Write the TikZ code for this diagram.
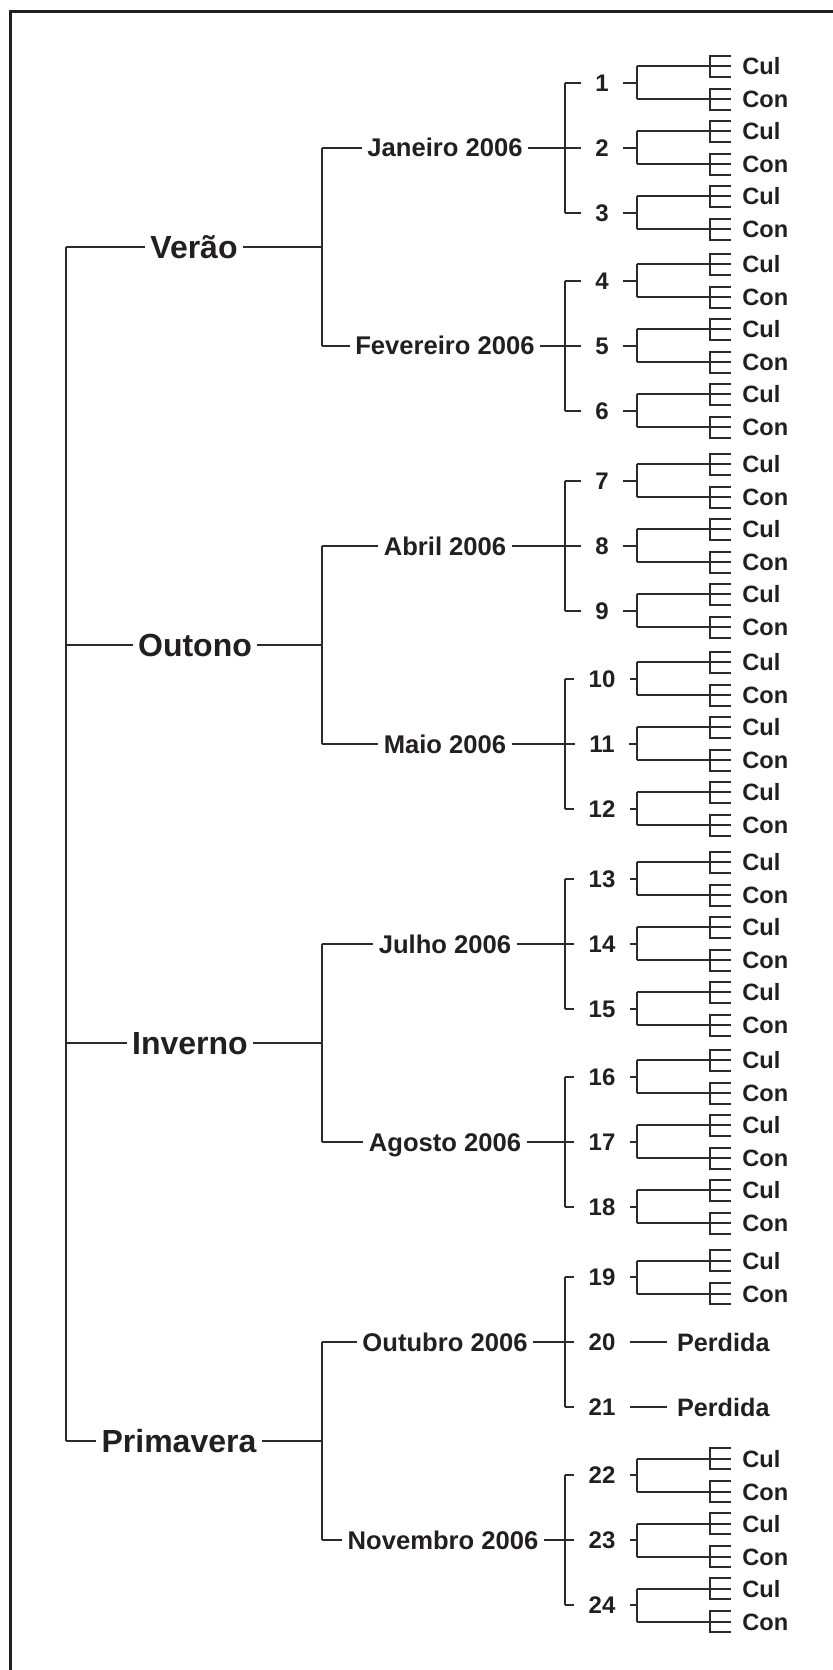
\documentclass[tikz,border=0pt]{standalone}
\usepackage{fontspec}
\setmainfont{Liberation Sans}
\usetikzlibrary{calc}

\definecolor{tinta}{HTML}{231F20}
\definecolor{traco}{HTML}{2B2B2B}

\tikzset{
  ramo/.style={draw=traco, line width=1pt},
  estacao/.style={font=\bfseries\fontsize{16}{18}\selectfont, text=tinta, inner sep=2.5pt, text height=11.5pt, text depth=0pt},
  mes/.style={font=\bfseries\fontsize{12.8}{15}\selectfont, text=tinta, inner sep=2.5pt, text height=9.2pt, text depth=0pt},
  amostra/.style={font=\bfseries\fontsize{12}{14}\selectfont, text=tinta, inner xsep=7pt, inner ysep=0pt, text height=8.6pt, text depth=0pt},
  folha/.style={font=\bfseries\fontsize{11.8}{14}\selectfont, text=tinta, anchor=west, inner sep=0pt, text height=8.5pt, text depth=0pt},
  perda/.style={font=\bfseries\fontsize{12.6}{15}\selectfont, text=tinta, anchor=west, inner xsep=5pt, inner ysep=0pt, text height=9pt, text depth=0pt},
}

\begin{document}
\begin{tikzpicture}[x=0.5pt, y=-0.5pt]
  \useasboundingbox (0,0) rectangle (833,1670);
  % moldura
  \draw[tinta, line width=1.5pt] (10,1670) -- (10,11) -- (833,11);

  % colunas
  \coordinate (tronco) at (65.7,0);
  \coordinate (galho) at (322.3,0);
  \coordinate (ponta) at (565,0);
  \coordinate (numx) at (602,0);
  \coordinate (haste) at (637,0);
  \coordinate (pente) at (710,0);
  \coordinate (dente) at (731,0);
  \coordinate (rotulo) at (742,0);
  \coordinate (perdx) at (666.7,0);

  % estacoes
  \node[estacao] (verao) at (194,246.7) {Verão};
  \node[estacao] (outono) at (195,644.8) {Outono};
  \node[estacao] (inverno) at (190,1042.9) {Inverno};
  \node[estacao] (primavera) at (179,1441) {Primavera};

  \draw[ramo] (tronco |- verao) -- (tronco |- primavera);
  \foreach \e in {verao,outono,inverno,primavera}
    \draw[ramo] (tronco |- \e) -- (\e.west);

  % meses
  \node[mes] (jan) at (445,147.7) {Janeiro 2006};
  \node[mes] (fev) at (445,345.7) {Fevereiro 2006};
  \node[mes] (abr) at (445,545.8) {Abril 2006};
  \node[mes] (mai) at (445,743.8) {Maio 2006};
  \node[mes] (jul) at (445,943.9) {Julho 2006};
  \node[mes] (ago) at (445,1141.9) {Agosto 2006};
  \node[mes] (outu) at (445,1342) {Outubro 2006};
  \node[mes] (nov) at (443,1540) {Novembro 2006};

  \foreach \e/\a/\b in {verao/jan/fev, outono/abr/mai, inverno/jul/ago, primavera/outu/nov}{
    \draw[ramo] (\e.east) -- (galho |- \e);
    \draw[ramo] (galho |- \a) -- (galho |- \b);
    \draw[ramo] (galho |- \a) -- (\a.west);
    \draw[ramo] (galho |- \b) -- (\b.west);
  }

  % amostras
  \foreach \m [count=\idx from 0] in {jan,fev,abr,mai,jul,ago,outu,nov}{
    \draw[ramo] (\m.east) -- (ponta |- \m);
    \foreach \dy [count=\jj] in {-65,0,65}{
      \pgfmathtruncatemacro{\n}{3*\idx+\jj}
      \node[amostra] (s\n) at ($(numx |- \m)+(0,\dy)$) {\n};
      \draw[ramo] (ponta |- s\n) -- (s\n.west);
    }
    \pgfmathtruncatemacro{\pri}{3*\idx+1}
    \pgfmathtruncatemacro{\ult}{3*\idx+3}
    \draw[ramo] (ponta |- s\pri) -- (ponta |- s\ult);
  }

  % Cul / Con
  \foreach \n in {1,...,19,22,23,24}{
    \node[folha] (cul\n) at ($(rotulo |- s\n)+(0,-16.5)$) {Cul};
    \node[folha] (con\n) at ($(rotulo |- s\n)+(0,16.5)$) {Con};
    \draw[ramo] (s\n.east) -- (haste |- s\n);
    \draw[ramo] (haste |- cul\n) -- (haste |- con\n);
    \foreach \f in {cul\n,con\n}{
      \draw[ramo] (haste |- \f) -- (dente |- \f);
      \draw[ramo] ($(dente |- \f)+(0,-10.5)$) -| ($(pente |- \f)+(0,10.5)$) -- ($(dente |- \f)+(0,10.5)$);
    }
  }

  % amostras perdidas
  \node[perda] (perda20) at (perdx |- s20) {Perdida};
  \node[perda] (perda21) at (perdx |- s21) {Perdida};
  \draw[ramo] (s20.east) -- (perda20.west);
  \draw[ramo] (s21.east) -- (perda21.west);
\end{tikzpicture}
\end{document}
